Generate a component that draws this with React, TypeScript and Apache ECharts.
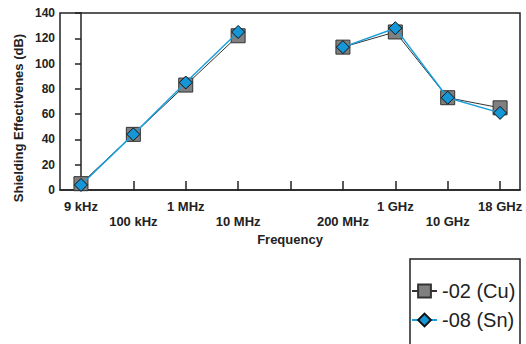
import React, { useEffect, useRef } from "react";
import * as echarts from "echarts";

const categories = ["9 kHz", "100 kHz", "1 MHz", "10 MHz", "", "200 MHz", "1 GHz", "10 GHz", "18 GHz"];
const cuValues: (number | null)[] = [5, 44, 83, 122, null, 113, 125, 73, 65];
const snValues: (number | null)[] = [4, 44, 85, 125, null, 113, 128, 73, 61];
const yTicks = [0, 20, 40, 60, 80, 100, 120, 140];

const FONT = "'Liberation Sans', Arial, Helvetica, sans-serif";

export default function App() {
  const ref = useRef<HTMLDivElement>(null);
  useEffect(() => {
    if (!ref.current) return;
    const chart = echarts.init(ref.current, undefined, { renderer: "svg" });
    const idx = categories.map((_, i) => i);
    const labelIdx = idx.filter((i) => categories[i] !== "");
    chart.setOption({
      animation: false,
      backgroundColor: "#ffffff",
      grid: {
        left: 60,
        right: 6,
        top: 13,
        bottom: 154,
        show: true,
        borderColor: "#222",
        borderWidth: 1.5,
        backgroundColor: "transparent",
      },
      xAxis: {
        type: "value",
        min: -0.4,
        max: 8.38,
        axisLine: { show: true, lineStyle: { color: "#222", width: 1.5 } },
        axisTick: {
          show: true,
          inside: true,
          length: 9,
          customValues: idx,
          lineStyle: { color: "#222", width: 1.5 },
        },
        axisLabel: {
          customValues: labelIdx,
          formatter: (v: number) => {
            const i = Math.round(v);
            const c = categories[i] ?? "";
            return i % 2 === 1 ? "\n" + c : c;
          },
          lineHeight: 15,
          margin: 9,
          color: "#222",
          fontWeight: "bold",
          fontSize: 13,
          fontFamily: FONT,
        },
        splitLine: { show: false },
      },
      yAxis: {
        type: "value",
        min: yTicks[0],
        max: yTicks[yTicks.length - 1],
        interval: 20,
        axisLine: { show: true, lineStyle: { color: "#222", width: 1.5 } },
        axisTick: { show: true, inside: false, length: 6, lineStyle: { color: "#222", width: 1.5 } },
        axisLabel: {
          margin: 5,
          color: "#222",
          fontWeight: "bold",
          fontSize: 12,
          fontFamily: FONT,
        },
        splitLine: { show: false },
      },
      legend: {
        orient: "vertical",
        left: 410,
        top: 259,
        padding: [22, 4, 2, 1],
        itemWidth: 25,
        itemHeight: 16,
        itemGap: 9,
        textStyle: { fontSize: 20, color: "#222", fontFamily: FONT },
        data: ["-02 (Cu)", "-08 (Sn)"],
      },
      graphic: [
        {
          type: "rect",
          shape: { x: 410, y: 259, width: 110, height: 100 },
          style: { fill: "none", stroke: "#222", lineWidth: 1.5 },
          silent: true,
        },
        {
          type: "text",
          x: 18,
          y: 118,
          rotation: Math.PI / 2,
          style: {
            text: "Shielding Effectivenes (dB)",
            fontSize: 13,
            fontWeight: "bold",
            fontFamily: FONT,
            fill: "#222",
            textAlign: "center",
            textVerticalAlign: "middle",
          },
        },
        {
          type: "text",
          x: 290,
          y: 239,
          style: {
            text: "Frequency",
            fontSize: 13,
            fontWeight: "bold",
            fontFamily: FONT,
            fill: "#222",
            textAlign: "center",
            textVerticalAlign: "middle",
          },
        },
      ],
      series: [
        {
          name: "-02 (Cu)",
          type: "line",
          data: cuValues.map((v, i) => [i, v]),
          connectNulls: false,
          symbol: "rect",
          symbolSize: 14,
          lineStyle: { color: "#333", width: 1 },
          itemStyle: { color: "#808080", borderColor: "#333", borderWidth: 1 },
          z: 2,
        },
        {
          name: "-08 (Sn)",
          type: "line",
          data: snValues.map((v, i) => [i, v]),
          connectNulls: false,
          symbol: "diamond",
          symbolSize: 13,
          lineStyle: { color: "#1a9fdc", width: 1.5 },
          itemStyle: { color: "#1596d6", borderColor: "#111", borderWidth: 1 },
          z: 3,
        },
      ],
    });
    return () => chart.dispose();
  }, []);
  return (
    <div
      ref={ref}
      style={{ position: "fixed", left: 0, top: 0, width: 526, height: 344, background: "#fff" }}
    />
  );
}
